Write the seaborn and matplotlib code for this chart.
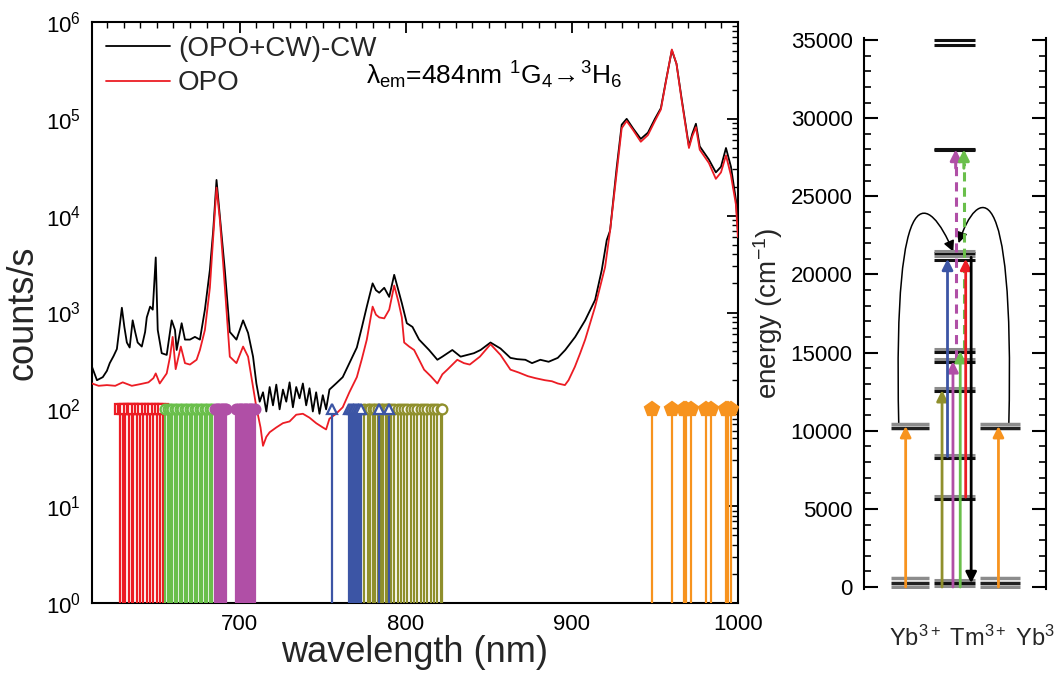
import numpy as np
import pandas as pd
import matplotlib
matplotlib.use('Agg')
import matplotlib.pyplot as plt
import seaborn as sns
from matplotlib.path import Path
from matplotlib.patches import FancyArrowPatch
from matplotlib.ticker import LogLocator, MultipleLocator, NullFormatter

# ---------------- data ----------------
black_nm = [611, 614, 617.5, 620, 621.7, 624, 626, 628, 629, 630.5, 632, 633.7, 635.5, 637, 638.5, 641, 643, 644,
            646, 647.6, 649.4, 650.6, 653, 656, 659, 661, 662, 665, 667, 670, 673, 676, 679, 682, 684, 686, 688,
            691, 694, 698, 702, 705, 708, 710, 712, 714, 716, 718, 720, 722, 724, 726, 728, 730, 732, 734, 736,
            738, 740, 742, 744, 746, 748, 750, 752, 754, 758, 762, 766, 770.5, 773.5, 776.5, 780, 782, 784, 787,
            790, 793, 795.5, 797.6, 800.6, 804, 808, 814, 819, 822, 828, 833, 837, 841, 845, 851, 857, 863, 867,
            872, 876, 881, 886, 891.5, 896, 902, 908, 914, 918, 921, 923, 927, 930, 933, 937, 941.5, 945.8, 950,
            953.6, 956.6, 960.2, 963, 966, 970.5, 972.5, 974.7, 977, 982.5, 986.7, 989.8, 992.8, 995.8, 998.8, 1000]
black_cts = [275, 200, 215, 250, 300, 355, 420, 800, 1120, 710, 490, 435, 830, 630, 490, 445, 630, 890,
             1150, 1070, 3700, 660, 380, 365, 830, 660, 410, 775, 525, 525, 560, 525, 1070, 2750, 7000, 23400, 10000,
             2750, 630, 525, 830, 615, 350, 185, 120, 150, 95, 170, 110, 180, 100, 160, 120, 190, 105, 170, 130,
             185, 110, 165, 95, 150, 90, 140, 100, 160, 185, 215, 300, 435, 700, 1150, 2000, 1700, 1600, 1800,
             1450, 2450, 1700, 1250, 775, 710, 525, 410, 325, 350, 410, 350, 365, 380, 410, 490, 425, 340, 330,
             325, 300, 325, 310, 340, 410, 560, 830, 1350, 2750, 5600, 7000, 31600, 87000, 100000, 79000, 62000, 72000, 100000,
             129000, 245000, 510000, 370000, 166000, 52000, 70000, 89000, 52000, 38000, 28000, 32000, 50000, 32000, 14500, 7000]

red_nm = [611, 615, 620, 625, 629.5, 635, 640, 645, 648, 649.4, 651.8, 656, 658, 659.6, 661.4, 664.5, 667, 670,
          674, 676, 679, 682, 684, 686, 688, 690, 694, 698, 702, 705, 708, 710, 712.5, 714, 716, 718, 722, 726,
          730, 734, 738, 742, 746, 750, 752, 754, 758, 762, 766, 770.5, 773.5, 776.5, 780, 782, 784, 787, 790,
          793, 795.5, 797.6, 799, 802, 805, 808, 811, 815, 819, 822, 825, 831, 835, 838.5, 844.6, 851, 857, 863,
          868, 873.5, 878, 883.7, 888, 891.5, 895.8, 898, 901.8, 905, 908, 914, 920, 923, 927, 930, 933, 937,
          941.5, 945.8, 950, 953.6, 956.6, 960.2, 963, 966, 970.5, 972.5, 974.7, 977, 982.5, 986.7, 989.8, 992.8,
          995.8, 998.8, 1000]
red_cts = [185, 175, 178, 175, 190, 175, 182, 190, 210, 235, 185, 235, 350, 560, 260, 445, 300, 290,
           325, 410, 660, 1800, 6000, 19500, 9100, 3200, 350, 300, 445, 350, 170, 105, 65, 42, 52, 58, 65, 72,
           75, 88, 90, 82, 72, 65, 62, 80, 90, 105, 150, 215, 330, 525, 1150, 950, 890, 870, 1070,
           1900, 1300, 890, 490, 445, 410, 325, 257, 220, 185, 230, 257, 325, 300, 290, 350, 470, 365, 257,
           240, 220, 210, 200, 195, 185, 178, 200, 275, 380, 525, 1150, 2950, 7000, 28000, 80000, 95000, 76000,
           58000, 68000, 95000, 125000, 240000, 520000, 370000, 160000, 50000, 66000, 82000, 48000, 35000, 24000, 28000, 42000,
           26000, 13000, 6000]

red_stems = [627.7, 629.5, 631, 633, 635, 636, 638, 640, 641.6, 644, 646, 647.6, 650, 652, 653.6]
green_stems = [655, 656.5, 658, 659, 661, 662.5, 664, 665, 667, 668.5, 670, 671.5, 673, 674, 676, 677.5,
               679, 680.5, 682, 683]
magenta_stems = [685, 686, 687, 688, 689, 690, 691, 692, 698, 699, 700, 701, 702, 703, 704, 705, 706, 707,
                 708, 709]
blue_stems = [755.4, 766, 767, 768, 769, 770, 771, 772, 773, 784, 790]
olive_stems = [775, 777, 778.5, 780, 781.5, 783, 785, 786.5, 788, 789.5, 791, 793, 795, 797, 799, 801, 803,
               805, 807, 809, 811, 813, 815, 817, 819, 821, 822]
orange_stems = [948, 960, 967.5, 969, 971.7, 980.7, 983.7, 992.8, 994, 996]
stem_top = 100

# energy levels (cm^-1)
yb_levels = [0, 250, 575, 10200, 10460]
yb_level_colors = ['#8c8c8c', '#222222', '#8c8c8c', '#222222', '#8c8c8c']
tm_levels = [60, 250, 450, 5650, 5850, 8250, 8450, 12550, 12750, 14400, 14600, 15050, 15250,
             20950, 21150, 21350, 21500, 27950, 28050, 34650, 35000]
tm_level_colors = ['#8c8c8c', '#111111', '#8c8c8c', '#111111', '#8c8c8c', '#111111', '#8c8c8c',
                   '#111111', '#8c8c8c', '#111111', '#8c8c8c', '#111111', '#8c8c8c',
                   '#111111', '#8c8c8c', '#111111', '#8c8c8c', '#111111', '#111111', '#111111', '#111111']

C_RED = '#ec1c24'
C_GREEN = '#6abf4b'
C_MAG = '#b04fa6'
C_BLUE = '#3c55a5'
C_OLIVE = '#8f8f2c'
C_ORANGE = '#f7931e'

# ---------------- style ----------------
sns.set_theme(style='white')
plt.rcParams['font.family'] = ['Liberation Sans', 'DejaVu Sans']
plt.rcParams['mathtext.fontset'] = 'custom'
plt.rcParams['mathtext.rm'] = 'Liberation Sans'
plt.rcParams['mathtext.it'] = 'Liberation Sans:italic'
plt.rcParams['mathtext.default'] = 'regular'

fig = plt.figure(figsize=(10.56, 6.73), dpi=100)
ax = fig.add_axes([0.0871, 0.104, 0.6117, 0.8633])

df_b = pd.DataFrame({'nm': black_nm, 'cts': black_cts})
df_r = pd.DataFrame({'nm': red_nm, 'cts': red_cts})
sns.lineplot(data=df_b, x='nm', y='cts', ax=ax, color='black', lw=1.3, label='(OPO+CW)-CW',
             estimator=None, sort=False, zorder=3)
sns.lineplot(data=df_r, x='nm', y='cts', ax=ax, color=C_RED, lw=1.3, label='OPO',
             estimator=None, sort=False, zorder=3)

ax.set_yscale('log')
ax.set_xlim(611, 1000)
ax.set_ylim(1, 1e6)

stem_specs = [
    (red_stems, C_RED, 's', 'white'),
    (green_stems, C_GREEN, 'o', 'white'),
    (magenta_stems, C_MAG, 'o', C_MAG),
    (olive_stems, C_OLIVE, 'o', 'white'),
    (blue_stems, C_BLUE, '^', 'white'),
    (orange_stems, C_ORANGE, 'p', C_ORANGE),
]
for xs, col, mk, fc in stem_specs:
    ax.vlines(xs, 1, stem_top, colors=col, lw=1.6, zorder=4)
    ax.plot(xs, [stem_top] * len(xs), ls='none', marker=mk, ms=7 if mk != 'p' else 10,
            mfc=fc, mec=col, mew=1.6, zorder=5)

ax.set_xlabel('wavelength (nm)', fontsize=26, labelpad=0)
ax.set_ylabel('counts/s', fontsize=26, labelpad=4)
ax.xaxis.set_major_locator(MultipleLocator(100))
ax.xaxis.set_minor_locator(MultipleLocator(10))
ax.yaxis.set_major_locator(LogLocator(base=10, numticks=10))
ax.yaxis.set_minor_locator(LogLocator(base=10, subs=np.arange(2, 10), numticks=20))
ax.yaxis.set_minor_formatter(NullFormatter())
ax.tick_params(which='both', direction='in', top=True, right=True, colors='black', labelsize=16)
ax.tick_params(which='major', length=8, width=1.3, pad=8)
ax.tick_params(which='minor', length=4, width=1.0)
for s in ax.spines.values():
    s.set_color('black')
    s.set_linewidth(1.5)

leg = ax.legend(loc='upper left', frameon=False, fontsize=20, handlelength=2.3, handletextpad=0.3,
                labelspacing=0.3, borderaxespad=0.1, bbox_to_anchor=(0.0, 1.0))
ax.text(776, 2.8e5, '$\\lambda_{em}$=484nm $^{1}$G$_{4}$$\\!\\rightarrow\\!$$^{3}$H$_{6}$', fontsize=19,
        va='center', ha='left', color='black')

# ---------------- right panel ----------------
ax2 = fig.add_axes([0.818, 0.1254, 0.1723, 0.8175])
ax2.set_xlim(0, 1)
ax2.set_ylim(-100, 35100)

for y, c in zip(yb_levels, yb_level_colors):
    ax2.hlines(y, 0.15, 0.36, colors=c, lw=2.5)
    ax2.hlines(y, 0.64, 0.86, colors=c, lw=2.5)
for y, c in zip(tm_levels, tm_level_colors):
    ax2.hlines(y, 0.385, 0.61, colors=c, lw=2.2)


def up_arrow(x, y0, y1, col, dashed=False):
    if dashed:
        ax2.plot([x, x], [y0, y1 - 900], color=col, lw=2.2, ls=(0, (3, 2)))
        ax2.annotate('', xy=(x, y1), xytext=(x, y1 - 1200),
                     arrowprops=dict(arrowstyle='-|>', color=col, lw=2.2, mutation_scale=16,
                                     shrinkA=0, shrinkB=0))
    else:
        ax2.annotate('', xy=(x, y1), xytext=(x, y0),
                     arrowprops=dict(arrowstyle='-|>', color=col, lw=2.0, mutation_scale=16,
                                     shrinkA=0, shrinkB=0))


up_arrow(0.23, 0, 10300, C_ORANGE)
up_arrow(0.74, 0, 10300, C_ORANGE)
up_arrow(0.43, 0, 12600, C_OLIVE)
up_arrow(0.49, 0, 14450, C_MAG)
up_arrow(0.53, 0, 15100, C_GREEN)
up_arrow(0.46, 8350, 21000, C_BLUE)
up_arrow(0.56, 5750, 21000, C_RED)
up_arrow(0.505, 14600, 28000, C_MAG, dashed=True)
up_arrow(0.55, 15200, 28000, C_GREEN, dashed=True)
ax2.annotate('', xy=(0.59, 250), xytext=(0.59, 21100),
             arrowprops=dict(arrowstyle='-|>', color='black', lw=2.0, mutation_scale=16, shrinkA=0, shrinkB=0))

left_curve = Path([(0.192, 10450), (0.16, 27000), (0.36, 25000), (0.492, 21450)],
                  [Path.MOVETO, Path.CURVE4, Path.CURVE4, Path.CURVE4])
right_curve = Path([(0.797, 10450), (0.83, 27000), (0.62, 25500), (0.521, 22000)],
                   [Path.MOVETO, Path.CURVE4, Path.CURVE4, Path.CURVE4])
for p in (left_curve, right_curve):
    ax2.add_patch(FancyArrowPatch(path=p, arrowstyle='-|>', mutation_scale=16, color='black', lw=1.1,
                                  transform=ax2.transData))

ax2.set_ylabel('energy (cm$^{-1}$)', fontsize=20, labelpad=4)
ax2.set_xticks([])
ax2.yaxis.set_major_locator(MultipleLocator(5000))
ax2.yaxis.set_minor_locator(MultipleLocator(1000))
ax2.tick_params(axis='y', which='both', direction='in', left=True, right=True, colors='black', labelsize=16)
ax2.tick_params(axis='y', which='major', length=10, width=1.5, pad=8)
ax2.tick_params(axis='y', which='minor', length=5, width=1.2)
ax2.spines['top'].set_visible(False)
ax2.spines['bottom'].set_visible(False)
for side in ('left', 'right'):
    ax2.spines[side].set_color('black')
    ax2.spines[side].set_linewidth(1.5)

fig.text(889 / 1056, 0.052, 'Yb$^{3+}$ Tm$^{3+}$ Yb$^{3+}$', fontsize=17, ha='left', va='center')

fig.savefig('out.png', dpi=100)
